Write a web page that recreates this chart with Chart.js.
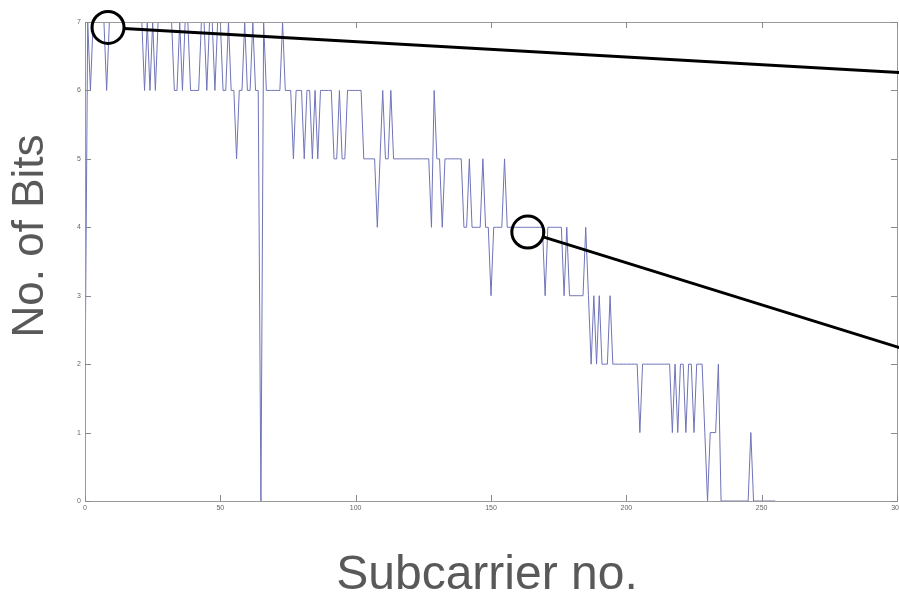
<!DOCTYPE html>
<html>
<head>
<meta charset="utf-8">
<script src="https://cdn.jsdelivr.net/npm/chart.js@4.4.1/dist/chart.umd.min.js"></script>
<style>
  html, body { margin: 0; padding: 0; background: #ffffff; }
  #wrap { width: 899px; height: 597px; position: relative; }
</style>
</head>
<body>
<div id="wrap"><canvas id="c" width="899" height="597"></canvas></div>
<script>
// ---- data ----
const subcarriers = Array.from({length: 256}, (_, i) => i); // subcarrier indices 0..255
const bits = [
  1.6,7,6,7,7,7,7,7,6,7,
  7,7,7,7,7,7,7,7,7,7,
  7,7,6,7,6,7,6,7,7,7,
  7,7,7,6,6,7,6,7,7,6,
  6,6,6,7,7,6,7,7,6,7,
  7,6,6,7,6,6,5,6,6,7,
  6,6,7,6,6,0,7,6,6,6,
  6,6,6,7,6,6,6,5,6,6,
  6,5,6,6,5,6,5,6,6,6,
  6,6,5,5,6,5,5,6,6,6,
  6,6,6,5,5,5,5,5,4,5,
  6,5,5,6,5,5,5,5,5,5,
  5,5,5,5,5,5,5,5,4,6,
  5,5,4,5,5,5,5,5,5,5,
  4,4,5,4,4,4,4,5,4,4,
  3,4,4,4,4,5,4,4,4,4,
  4,4,4,4,4,4,4,4,4,4,
  3,4,4,4,4,4,4,3,4,3,
  3,3,3,3,3,4,3,2,3,2,
  3,2,2,2,3,2,2,2,2,2,
  2,2,2,2,2,1,2,2,2,2,
  2,2,2,2,2,2,2,1,2,1,
  2,2,1,2,2,1,2,2,2,1,
  0,1,1,1,2,0,0,0,0,0,
  0,0,0,0,0,0,1,0,0,0,
  0,0,0,0,0,0
];
const xTicks = [0, 50, 100, 150, 200, 250, 300];
const yTicks = [0, 1, 2, 3, 4, 5, 6, 7];
const xTitle = 'Subcarrier no.';
const yTitle = 'No. of Bits';
// annotation: highlighted points (circles) and pointer line ends, in data units
const markCircles = [{x: 8.5, y: 6.92}, {x: 163.6, y: 3.93}];
const markLineEnds = [{x: 301, y: 6.26}, {x: 301, y: 2.24}];

const points = subcarriers.map((s, i) => ({x: s, y: bits[i]}));

const framePlugin = {
  id: 'frame',
  afterDatasetsDraw(chart) {
    const {ctx, chartArea: a, scales: {x, y}} = chart;
    ctx.save();
    ctx.strokeStyle = '#9a9a9a';
    ctx.lineWidth = 1;
    ctx.strokeRect(a.left + 0.5, a.top + 0.5, a.right - a.left, a.bottom - a.top);
    ctx.strokeStyle = '#8a8a8a';
    ctx.beginPath();
    const tl = 6;
    xTicks.forEach(v => {
      const px = Math.round(x.getPixelForValue(v)) + 0.5;
      ctx.moveTo(px, a.bottom); ctx.lineTo(px, a.bottom - tl);
      ctx.moveTo(px, a.top); ctx.lineTo(px, a.top + tl);
    });
    yTicks.forEach(v => {
      const py = Math.round(y.getPixelForValue(v)) + 0.5;
      ctx.moveTo(a.left, py); ctx.lineTo(a.left + tl, py);
      ctx.moveTo(a.right, py); ctx.lineTo(a.right - tl, py);
    });
    ctx.stroke();
    ctx.restore();

    // annotation circles and pointer lines
    ctx.save();
    ctx.strokeStyle = '#000000';
    ctx.lineWidth = 3;
    const r = 16;
    markCircles.forEach((c, i) => {
      const cx = x.getPixelForValue(c.x), cy = y.getPixelForValue(c.y);
      const ex = x.getPixelForValue(markLineEnds[i].x), ey = y.getPixelForValue(markLineEnds[i].y);
      ctx.beginPath();
      ctx.arc(cx, cy, r, 0, Math.PI * 2);
      ctx.stroke();
      const ang = Math.atan2(ey - cy, ex - cx);
      ctx.beginPath();
      ctx.moveTo(cx + r * Math.cos(ang), cy + r * Math.sin(ang));
      ctx.lineTo(ex, ey);
      ctx.stroke();
    });
    ctx.restore();
  },
  afterDraw(chart) {
    const {ctx} = chart;
    ctx.save();
    ctx.fillStyle = '#595959';
    ctx.textAlign = 'center';
    ctx.textBaseline = 'middle';
    ctx.font = '48px "Liberation Sans", Arial, sans-serif';
    ctx.fillText(xTitle, 487, 576);
    ctx.font = '44px "Liberation Sans", Arial, sans-serif';
    ctx.translate(31, 236);
    ctx.rotate(-Math.PI / 2);
    ctx.fillText(yTitle, 0, 0);
    ctx.restore();
  }
};

new Chart(document.getElementById('c'), {
  type: 'line',
  data: {
    datasets: [{
      data: points,
      borderColor: '#6f74b8',
      borderWidth: 1,
      pointRadius: 0,
      tension: 0,
      fill: false
    }]
  },
  options: {
    responsive: false,
    animation: false,
    events: [],
    layout: {padding: {top: 22, right: 2, left: 0, bottom: 0}},
    plugins: {legend: {display: false}, tooltip: {enabled: false}, title: {display: false}},
    scales: {
      x: {
        type: 'linear',
        min: 0, max: 300,
        afterBuildTicks: s => { s.ticks = xTicks.map(v => ({value: v})); },
        afterFit: s => { s.height = 96; s.paddingLeft = 0; s.paddingRight = 0; },
        grid: {display: false, drawTicks: false},
        border: {display: false},
        ticks: {color: '#666', font: {size: 7, family: '"Liberation Sans", Arial'}, padding: 3, maxRotation: 0, autoSkip: false}
      },
      y: {
        type: 'linear',
        min: 0, max: 7,
        afterBuildTicks: s => { s.ticks = yTicks.map(v => ({value: v})); },
        afterFit: s => { s.width = 85; s.paddingTop = 0; s.paddingBottom = 0; },
        grid: {display: false, drawTicks: false},
        border: {display: false},
        ticks: {color: '#666', font: {size: 7, family: '"Liberation Sans", Arial'}, padding: 4}
      }
    }
  },
  plugins: [framePlugin]
});
</script>
</body>
</html>
